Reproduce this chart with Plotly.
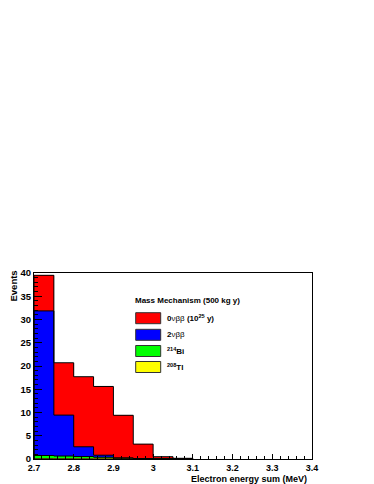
import plotly.graph_objects as go

# ---- data ----
bin_edges = [2.70, 2.75, 2.80, 2.85, 2.90, 2.95, 3.00, 3.05, 3.10]
tl208 = [0.05, 0.04, 0.03, 0.02, 0.01, 0.0, 0.0, 0.0]
bi214 = [0.7, 0.6, 0.5, 0.35, 0.2, 0.1, 0.05, 0.0]
twonu = [31.1, 8.8, 2.1, 0.45, 0.0, 0.0, 0.0, 0.0]
zeronu = [7.65, 11.26, 15.07, 14.78, 9.19, 3.1, 0.45, 0.15]

x_tickvals = [2.7, 2.8, 2.9, 3.0, 3.1, 3.2, 3.3, 3.4]
x_ticktext = ["2.7", "2.8", "2.9", "3", "3.1", "3.2", "3.3", "3.4"]
y_tickvals = [0, 5, 10, 15, 20, 25, 30, 35, 40]

legend_title = "Mass Mechanism (500 kg y)"
legend_labels = [
    "0<span style='font-weight:normal'>νββ</span> (10<sup>25</sup> y)",
    "2<span style='font-weight:normal'>νββ</span>",
    "<sup>214</sup>Bi",
    "<sup>208</sup>Tl",
]
colors = ["#ff0000", "#0000ff", "#00ff00", "#ffff00"]

# ---- cumulative stacks (yellow bottom, then green, blue, red on top) ----
n = len(tl208)
c_y = [tl208[i] for i in range(n)]
c_g = [c_y[i] + bi214[i] for i in range(n)]
c_b = [c_g[i] + twonu[i] for i in range(n)]
c_r = [c_b[i] + zeronu[i] for i in range(n)]
centers = [(bin_edges[i] + bin_edges[i + 1]) / 2 for i in range(n)]
widths = [bin_edges[i + 1] - bin_edges[i] for i in range(n)]

fig = go.Figure()
for cum, col in [(c_r, colors[0]), (c_b, colors[1]), (c_g, colors[2]), (c_y, colors[3])]:
    fig.add_trace(go.Bar(x=centers, y=cum, width=widths, marker=dict(color=col, line=dict(width=0)),
                         showlegend=False, hoverinfo="skip"))

for cum in [c_r, c_b, c_g, c_y]:
    xs = [bin_edges[0]] + bin_edges + [bin_edges[-1]]
    ys = [0] + cum + [cum[-1]] + [0]
    fig.add_trace(go.Scatter(x=xs, y=ys, mode="lines", line=dict(color="black", width=1, shape="hv"),
                             showlegend=False, hoverinfo="skip"))

FONT = "Liberation Sans, Arial, sans-serif"

# page has an 8px body margin; positions below are page pixels
OFF = 8
PL, PR, PT, PB = 34, 312, 273, 459  # plot frame in page pixels
W, H = 374 - OFF, 484 - OFF
L, T = PL - OFF, PT - OFF
R = W - (PR - OFF)
B = H - (PB - OFF)
pw, ph = PR - PL, PB - PT


def px(x):
    return (x - PL) / pw


def py(y):
    return (PB - y) / ph


annotations = [
    dict(text="Events", x=px(12.5), y=py(286), xref="paper", yref="paper", textangle=-90,
         showarrow=False, font=dict(family=FONT, size=9.5, color="black", weight="bold"),
         xanchor="center", yanchor="middle"),
    dict(text="Electron energy sum (MeV)", x=px(309), y=py(478.5), xref="paper", yref="paper",
         showarrow=False, font=dict(family=FONT, size=9, color="black", weight="bold"),
         xanchor="right", yanchor="middle"),
    dict(text=legend_title, x=px(133), y=py(300), xref="paper", yref="paper",
         showarrow=False, font=dict(family=FONT, size=8, color="black", weight="bold"),
         xanchor="left", yanchor="middle"),
]
shapes = []
box_centers = [318.2, 334.8, 351.0, 367.0]
for lab, col, cy in zip(legend_labels, colors, box_centers):
    shapes.append(dict(type="rect", xref="paper", yref="paper",
                       x0=px(135.7), x1=px(160.7), y0=py(cy + 5.5), y1=py(cy - 5.5),
                       fillcolor=col, line=dict(color="#333333", width=1)))
    annotations.append(dict(text=lab, x=px(164.5), y=py(cy), xref="paper", yref="paper",
                            showarrow=False, font=dict(family=FONT, size=8, color="black", weight="bold"),
                            xanchor="left", yanchor="middle"))

fig.update_layout(
    width=W, height=H,
    margin=dict(l=L, r=R, t=T, b=B, pad=0),
    paper_bgcolor="white", plot_bgcolor="white",
    barmode="overlay", bargap=0,
    showlegend=False,
    annotations=annotations, shapes=shapes,
    font=dict(family=FONT, color="black"),
)
fig.update_xaxes(range=[2.7, 3.4], tickmode="array", tickvals=x_tickvals, ticktext=x_ticktext,
                 ticks="inside", ticklen=5.5, tickcolor="black", tickwidth=1,
                 minor=dict(dtick=0.02, tick0=2.7, ticks="inside", ticklen=3, tickcolor="black"),
                 showline=True, linecolor="black", linewidth=1, mirror=True,
                 showgrid=False, zeroline=False,
                 tickfont=dict(family=FONT, size=9, color="black", weight="bold"), ticklabelstandoff=0)
fig.update_yaxes(range=[0, 40], tickmode="array", tickvals=y_tickvals,
                 ticks="inside", ticklen=8, tickcolor="black", tickwidth=1,
                 minor=dict(dtick=1, tick0=0, ticks="inside", ticklen=4, tickcolor="black"),
                 showline=True, linecolor="black", linewidth=1, mirror=True,
                 showgrid=False, zeroline=False,
                 tickfont=dict(family=FONT, size=9.5, color="black", weight="bold"), ticklabelstandoff=0)

fig.write_html("out.html")
